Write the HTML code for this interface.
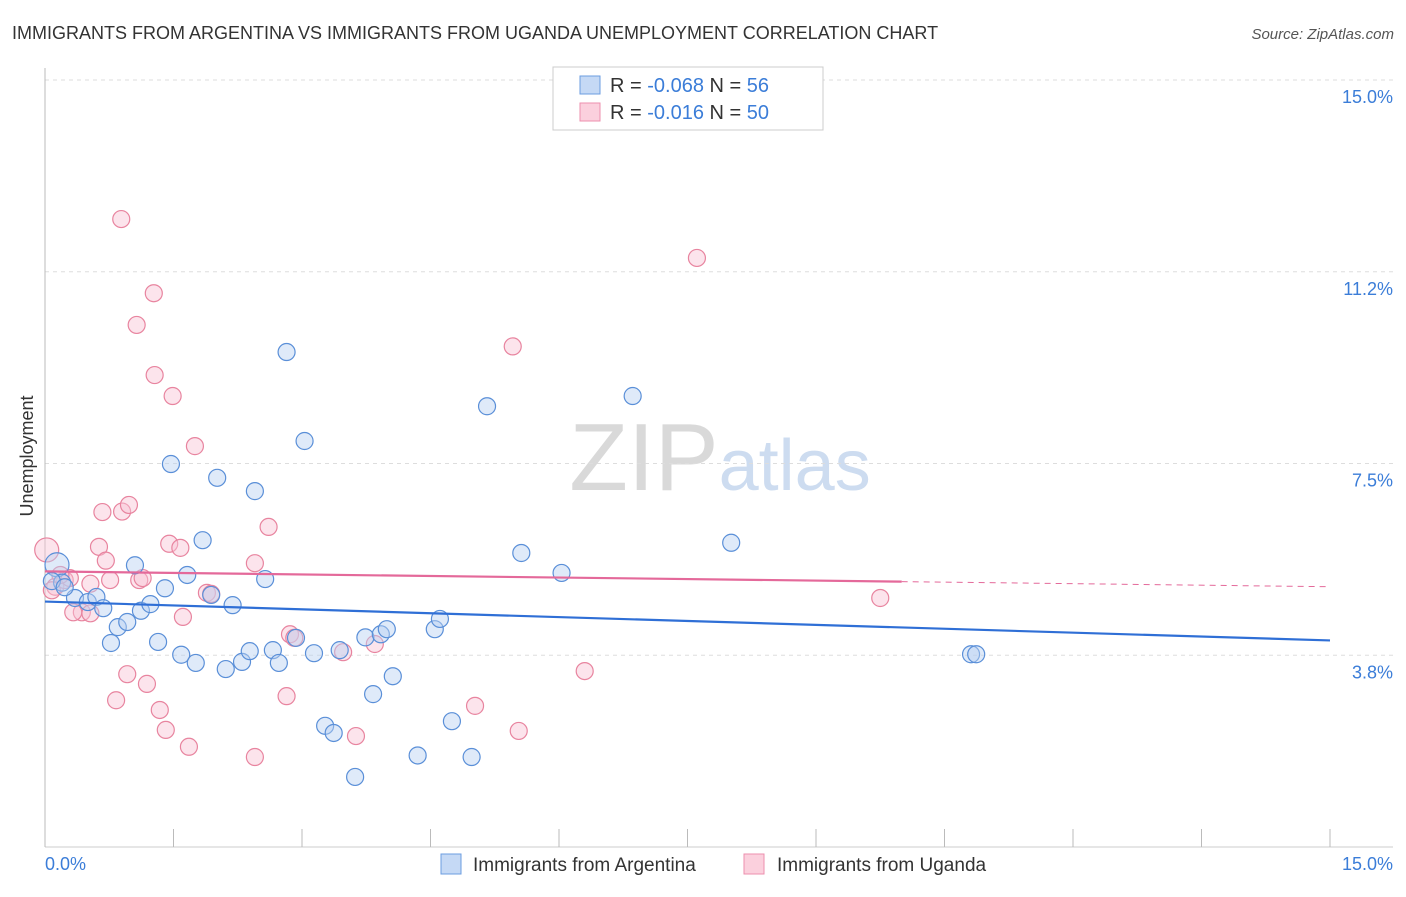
<!DOCTYPE html>
<html><head><meta charset="utf-8"><style>
body{margin:0;background:#fff;font-family:"Liberation Sans",sans-serif;}
svg text{font-family:"Liberation Sans",sans-serif;}
</style></head><body>
<svg id="chart" width="1406" height="892" xmlns="http://www.w3.org/2000/svg">
<text x="12" y="39" font-size="18" fill="#333">IMMIGRANTS FROM ARGENTINA VS IMMIGRANTS FROM UGANDA UNEMPLOYMENT CORRELATION CHART</text>
<text x="1394" y="39" font-size="15" fill="#555" text-anchor="end" font-style="italic">Source: ZipAtlas.com</text>
<text x="720" y="490" font-size="96" text-anchor="middle" fill="#ddd" font-family="Liberation Serif"><tspan fill="#d9d9d9">ZIP</tspan><tspan fill="#cddcf0" font-family="Liberation Sans" font-size="72">atlas</tspan></text>
<g id="grid"></g>
<g id="axes"></g>
<g id="marks"></g>
<text transform="translate(33,456) rotate(-90)" font-size="18" fill="#333" text-anchor="middle">Unemployment</text>
<g>
<rect x="553" y="67" width="270" height="63" fill="#fff" stroke="#ccc"/>
<rect x="580" y="76" width="20" height="18" fill="#c5d9f5" stroke="#6b9de0"/>
<rect x="580" y="103" width="20" height="18" fill="#fbd0dd" stroke="#ec8fae"/>
<text x="610" y="92" font-size="20" fill="#333">R = <tspan fill="#3b7dd8">-0.068</tspan>   N = <tspan fill="#3b7dd8">56</tspan></text>
<text x="610" y="119" font-size="20" fill="#333">R =  <tspan fill="#3b7dd8">-0.016</tspan>   N = <tspan fill="#3b7dd8">50</tspan></text>
</g>
<g>
<rect x="441" y="854" width="20" height="20" fill="#c5d9f5" stroke="#6b9de0"/>
<text x="473" y="871" font-size="19" fill="#333">Immigrants from Argentina</text>
<rect x="744" y="854" width="20" height="20" fill="#fbd0dd" stroke="#ec8fae"/>
<text x="777" y="871" font-size="19" fill="#333">Immigrants from Uganda</text>
</g>
</svg>
<script>
const yTicks=[3.75,7.5,11.25,15];
const yTickLabels=["3.8%","7.5%","11.2%","15.0%"];
const xTickLabels=["0.0%","15.0%"];
const blueX=[0.14,0.2,0.35,0.5,0.6,0.68,0.77,0.85,0.96,1.05,1.12,1.23,1.32,1.4,1.47,1.59,1.66,1.76,1.84,1.94,2.01,2.11,2.19,2.3,2.39,2.45,2.57,2.66,2.73,2.82,2.93,3.03,3.14,3.27,3.37,3.44,3.62,3.74,3.83,3.92,3.99,4.06,4.35,4.55,4.61,4.75,4.98,5.16,5.56,6.03,6.86,8.01,10.81,10.87,0.08,0.23];
const blueY=[5.52,5.17,4.87,4.79,4.89,4.67,3.99,4.3,4.4,5.51,4.62,4.75,4.01,5.06,7.49,3.76,5.32,3.6,6.0,4.93,7.22,3.48,4.73,3.62,3.83,6.96,5.24,3.85,3.6,9.68,4.09,7.94,3.79,2.37,2.23,3.85,1.37,4.1,2.99,4.16,4.26,3.34,1.79,4.26,4.46,2.46,1.76,8.62,5.75,5.36,8.82,5.95,3.77,3.77,5.2,5.08];
const pinkX=[0.02,0.12,0.23,0.29,0.43,0.53,0.33,0.53,0.63,0.67,0.71,0.76,0.83,0.89,0.9,0.96,0.98,1.07,1.1,1.14,1.19,1.27,1.28,1.34,1.41,1.45,1.49,1.58,1.61,1.68,1.75,1.89,1.94,2.45,2.45,2.61,2.82,2.86,2.91,3.48,3.63,3.85,5.02,5.46,5.53,6.3,7.61,9.75,0.08,0.18];
const pinkY=[5.81,5.09,5.22,5.26,4.59,4.57,4.59,5.15,5.87,6.55,5.6,5.22,2.87,12.28,6.56,3.38,6.69,10.21,5.22,5.26,3.19,10.83,9.23,2.68,2.29,5.93,8.82,5.85,4.5,1.96,7.84,4.97,4.95,1.76,5.55,6.26,2.95,4.16,4.09,3.81,2.17,3.97,2.76,9.79,2.27,3.44,11.52,4.87,5.02,5.32];
const blueTrend=[4.8,4.04];
const pinkTrend=[5.39,5.19,5.09];
const svg=document.getElementById('chart');
const NS='http://www.w3.org/2000/svg';
const X0=45,X1=1330,Y0=847,Y15=80;
const sx=v=>X0+(X1-X0)*v/15;
const sy=v=>Y0-(Y0-Y15)*v/15;
function mk(t,a,p){const e=document.createElementNS(NS,t);for(const k in a)e.setAttribute(k,a[k]);p.appendChild(e);return e;}
const grid=document.getElementById('grid'),axes=document.getElementById('axes'),marks=document.getElementById('marks');
yTicks.forEach((v,i)=>{
 const l=mk('line',{x1:X0,x2:1393,y1:sy(v),y2:sy(v),stroke:'#ddd','stroke-dasharray':'4,4'},grid);
 
 
 const t=mk('text',{x:1393,y:sy(v)+23,'font-size':18,fill:'#3b7dd8','text-anchor':'end'},axes);
 t.textContent=yTickLabels[i];
 
 
});
const al=mk('line',{x1:X0,x2:X0,y1:68,y2:Y0,stroke:'#bbb'},axes);

const bl=mk('line',{x1:X0,x2:1393,y1:Y0,y2:Y0,stroke:'#ccc'},axes);

for(let i=0;i<=10;i++){
 const tk=mk('line',{x1:sx(i*1.5),x2:sx(i*1.5),y1:829,y2:Y0,stroke:'#bbb'},axes);
 
 
}
[[0,'start',45],[15,'end',1393]].forEach((d,i)=>{
 const t=mk('text',{x:d[2],y:870,'font-size':18,fill:'#3b7dd8','text-anchor':d[1]},axes);
 t.textContent=xTickLabels[i];
 
 
});
function pts(xs,ys,fill,stroke,name){
 xs.forEach((x,i)=>{
  const r=(i===0)?12:8.5;
  const c=mk('circle',{cx:sx(x),cy:sy(ys[i]),r:r,fill:fill,'fill-opacity':0.45,stroke:stroke,'stroke-width':1.2},marks);
  
  
 });
}
pts(pinkX,pinkY,'#f9c4d4','#e8849f','uganda-point');
pts(blueX,blueY,'#b8d0f2','#5a8fd8','argentina-point');
const bt=mk('line',{x1:sx(0),x2:sx(15),y1:sy(blueTrend[0]),y2:sy(blueTrend[1]),stroke:'#2f6fd6','stroke-width':2.2},marks);

const pt=mk('line',{x1:sx(0),x2:sx(10),y1:sy(pinkTrend[0]),y2:sy(pinkTrend[1]),stroke:'#e4699a','stroke-width':2.2},marks);

const pd=mk('line',{x1:sx(10),x2:sx(15),y1:sy(pinkTrend[1]),y2:sy(pinkTrend[2]),stroke:'#e4699a','stroke-width':1,'stroke-dasharray':'6,5'},marks);

</script>
</body></html>
